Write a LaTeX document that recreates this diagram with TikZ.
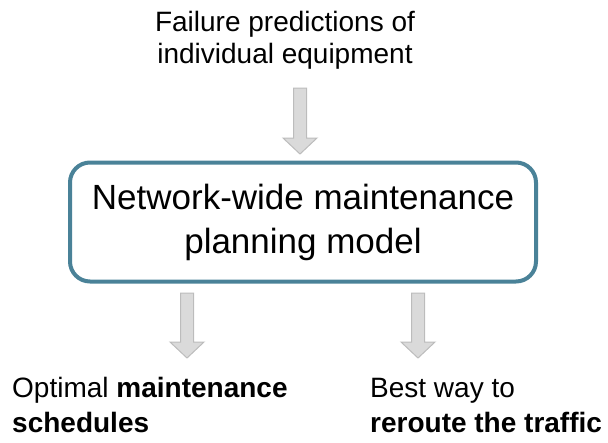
\documentclass[tikz,border=0pt]{standalone}
\usepackage{fontspec}
\setmainfont{Liberation Sans}
\usetikzlibrary{calc,positioning}

\definecolor{boxblue}{RGB}{74,130,152}
\definecolor{arrfill}{RGB}{218,218,218}
\definecolor{arredge}{RGB}{188,188,188}

\begin{document}
\begin{tikzpicture}[
  x=1pt,y=-1pt,
  txt/.style={font=\fontsize{28}{35}\selectfont, align=left, inner sep=0pt},
  toptxt/.style={font=\fontsize{28}{32}\selectfont, align=center, inner sep=0pt},
  model/.style={draw=boxblue,line width=4pt,rounded corners=20pt,
    minimum width=466pt,minimum height=119pt,align=center,
    font=\fontsize{35}{44}\selectfont},
  blockarr/.style={draw=arredge,fill=arrfill,line width=1pt,
    to path={let \p1=(\tikztostart), \p2=(\tikztotarget) in
      (\x1-6.5pt,\y1) -- (\x1-6.5pt,\y2+16pt) -- (\x1-17pt,\y2+16pt)
      -- (\x1,\y2) -- (\x1+17pt,\y2+16pt) -- (\x1+6.5pt,\y2+16pt)
      -- (\x1+6.5pt,\y1) -- cycle}}
]
\useasboundingbox (0,0) rectangle (608,442);

% -------------------------
% Input
% -------------------------
\node[toptxt,anchor=base] (fail) at (285,63)
  {Failure predictions of\\individual equipment};

% -------------------------
% Model box
% -------------------------
\node[model] (plan) at (303,222)
  {Network-wide maintenance\\planning model};

% -------------------------
% Outputs
% -------------------------
\node[txt,anchor=base west] (sched) at (12,432)
  {Optimal \textbf{maintenance}\\\textbf{schedules}};
\node[txt,anchor=base west] (route) at (370,432)
  {Best way to\\\textbf{reroute the traffic}};

% arrows
\coordinate (a1s) at (300,88);
\coordinate (a1e) at (300,154);
\coordinate (a2s) at (187,293);
\coordinate (a2e) at (187,358);
\coordinate (a3s) at (418,293);
\coordinate (a3e) at (418,358);
\draw[blockarr] (a1s) to (a1e);
\draw[blockarr] (a2s) to (a2e);
\draw[blockarr] (a3s) to (a3e);

\end{tikzpicture}
\end{document}
